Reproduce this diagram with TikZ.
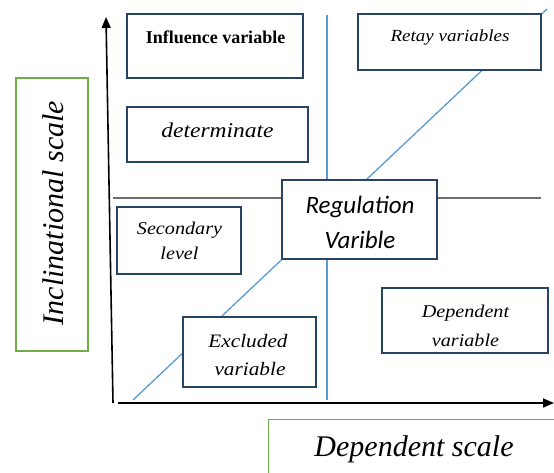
\documentclass[tikz,border=0pt]{standalone}
\usepackage{fontspec}
\setmainfont{Liberation Serif}
\newfontfamily\tnr{Liberation Serif}
\newfontfamily\tnrw[FakeStretch=1.12]{Liberation Serif}
\newfontfamily\calib{Carlito}
\usetikzlibrary{arrows.meta}
\definecolor{boxcol}{RGB}{40,68,98}
\definecolor{bluel}{RGB}{91,155,213}
\definecolor{greenb}{RGB}{112,173,71}
\definecolor{greyl}{RGB}{110,110,110}
\tikzset{
  vbox/.style={draw=boxcol, line width=1.8pt, fill=white, inner sep=0pt},
  gbox/.style={draw=greenb, line width=1.4pt, fill=white, inner sep=0pt},
  axis/.style={black, line width=1.6pt, -{Triangle[length=11pt,width=9pt]}},
  bline/.style={bluel, line width=1.3pt},
  txt/.style={inner sep=0pt, anchor=base},
}
\begin{document}
\begin{tikzpicture}[x=1pt,y=-1pt]
\useasboundingbox (0,0) rectangle (554,472);
% guide lines
\coordinate (d1) at (133,400);
\coordinate (d2) at (547,9);
\coordinate (v1) at (327,15);
\coordinate (v2) at (327,400);
\coordinate (g1) at (113,198);
\coordinate (g2) at (541,198);
\draw[bline] (d1) -- (d2);
\draw[bline] (v1) -- (v2);
\draw[greyl, line width=1.5pt] (g1) -- (g2);
% axes
\coordinate (o) at (113,403);
\coordinate (ytop) at (106,17);
\coordinate (xo) at (118,403);
\coordinate (xend) at (554,403);
\draw[axis] (o) -- (ytop);
\draw[axis] (xo) -- (xend);
% boxes
\node[vbox, minimum width=176pt, minimum height=64pt] (infl) at (215,46) {};
\node[txt, font=\fontsize{18}{20}\selectfont\tnr\bfseries] (infltxt) at (215.5,43) {Influence variable};
\node[vbox, minimum width=181pt, minimum height=55pt] (det) at (217.5,134.5) {};
\node[txt, font=\fontsize{21}{22}\selectfont\tnrw\itshape] (dettxt) at (217.5,137) {determinate};
\node[vbox, minimum width=183pt, minimum height=56pt] (retay) at (449.5,42) {};
\node[txt, font=\fontsize{17}{18}\selectfont\tnrw\itshape] (retaytxt) at (450,41) {Retay variables};
\node[vbox, minimum width=155pt, minimum height=79pt] (reg) at (359.5,219.5) {};
\node[txt, font=\fontsize{25}{26}\selectfont\calib\itshape] (regtxt1) at (360,213) {Regulation};
\node[txt, font=\fontsize{25}{26}\selectfont\calib\itshape] (regtxt2) at (360,248) {Varible};
\node[vbox, minimum width=124pt, minimum height=67pt] (sec) at (179,240.5) {};
\node[txt, font=\fontsize{18}{20}\selectfont\tnrw\itshape] (sectxt1) at (179.5,234) {Secondary};
\node[txt, font=\fontsize{18}{20}\selectfont\tnrw\itshape] (sectxt2) at (179.5,259) {level};
\node[vbox, minimum width=133pt, minimum height=70pt] (excl) at (249.5,352) {};
\node[txt, font=\fontsize{19}{20}\selectfont\tnrw\itshape] (excltxt1) at (248,347) {Excluded};
\node[txt, font=\fontsize{19}{20}\selectfont\tnrw\itshape] (excltxt2) at (250,375) {variable};
\node[vbox, minimum width=166pt, minimum height=65pt] (dep) at (465,320.5) {};
\node[txt, font=\fontsize{18}{20}\selectfont\tnrw\itshape] (deptxt1) at (465.5,317) {Dependent};
\node[txt, font=\fontsize{18}{20}\selectfont\tnrw\itshape] (deptxt2) at (465.5,346) {variable};
% green scale boxes
\node[gbox, minimum width=72pt, minimum height=273pt] (incl) at (52,214.5) {};
\node[txt, rotate=90, font=\fontsize{30}{32}\selectfont\tnr\itshape] (incltxt) at (63,213) {Inclinational scale};
\node[gbox, anchor=north west, minimum width=300pt, minimum height=80pt] (depsc) at (268,419) {};
\node[txt, font=\fontsize{30}{32}\selectfont\tnr\itshape] (depsctxt) at (414,456) {Dependent scale};
\end{tikzpicture}
\end{document}
